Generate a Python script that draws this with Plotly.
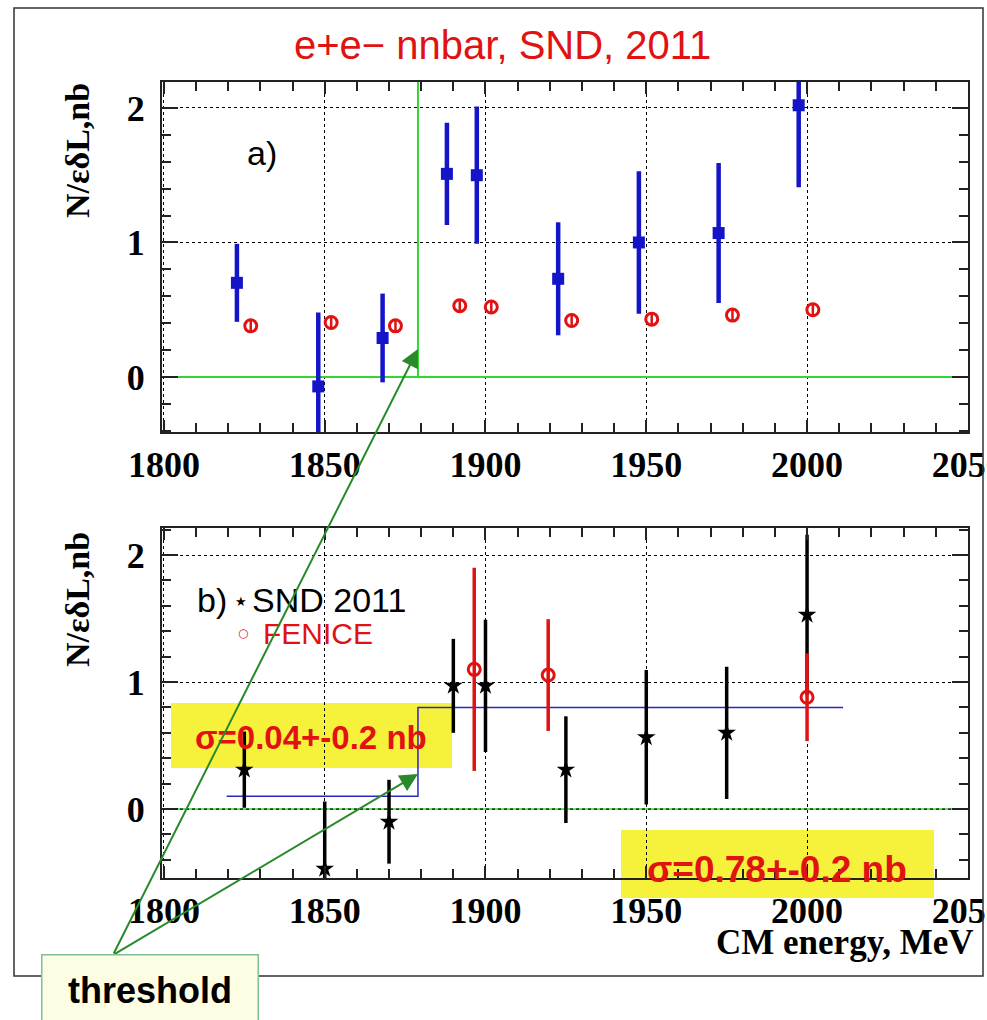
import plotly.graph_objects as go

W, H = 987, 1020

# ---- panel a) : N/(eps*dL) per energy point ----
e_snd_a = [1822.7, 1848.0, 1868.0, 1888.0, 1897.3, 1922.6, 1947.7, 1972.5, 1997.4]
n_snd_a = [0.70, -0.07, 0.29, 1.51, 1.50, 0.73, 1.00, 1.07, 2.02]
err_snd_a = [0.29, 0.55, 0.33, 0.38, 0.51, 0.42, 0.53, 0.52, 0.61]

e_open_a = [1827.0, 1852.0, 1872.0, 1892.0, 1901.8, 1926.8, 1951.7, 1976.8, 2001.8]
n_open_a = [0.38, 0.405, 0.38, 0.53, 0.52, 0.42, 0.43, 0.46, 0.50]
err_open_a = [0.05, 0.05, 0.05, 0.05, 0.05, 0.05, 0.05, 0.05, 0.05]

# ---- panel b) : SND 2011 vs FENICE ----
e_snd_b = [1825, 1850, 1870, 1890, 1900, 1925, 1950, 1975, 2000]
n_snd_b = [0.31, -0.47, -0.10, 0.97, 0.97, 0.31, 0.565, 0.60, 1.53]
err_snd_b = [0.30, 0.53, 0.33, 0.37, 0.52, 0.42, 0.53, 0.52, 0.63]

e_fenice = [1896.5, 1919.5, 2000.0]
n_fenice = [1.10, 1.055, 0.88]
err_fenice = [0.80, 0.44, 0.345]

# step fit below / above threshold
fit_e = [1819.5, 1879.0, 1879.0, 2011.2]
fit_n = [0.10, 0.10, 0.80, 0.80]

threshold = 1879.0
x_range = [1799.4, 2050.05]
x_ticks = [1800, 1850, 1900, 1950, 2000, 2050]
y_ticks = [0, 1, 2]

BLUE = "#1414c8"
RED = "#e01212"
GREEN = "#33d633"
ARROW_GREEN = "#2a8a2a"
YELLOW = "#f6f23c"
SERIF = "Liberation Serif"
SANS = "Liberation Sans"


def px(xp):
    return xp / W


def py(yp):
    return 1 - yp / H


fig = go.Figure()

# ---------- panel a ----------
fig.add_trace(go.Scatter(x=x_range, y=[0, 0], mode="lines",
                         line=dict(color=GREEN, width=2), xaxis="x", yaxis="y",
                         hoverinfo="skip"))
fig.add_trace(go.Scatter(x=[threshold, threshold], y=[0, 2.4], mode="lines",
                         line=dict(color=GREEN, width=2), xaxis="x", yaxis="y",
                         hoverinfo="skip"))
fig.add_trace(go.Scatter(
    x=e_snd_a, y=n_snd_a, mode="markers", xaxis="x", yaxis="y",
    marker=dict(symbol="square", size=12, color=BLUE),
    error_y=dict(type="data", array=err_snd_a, thickness=4.5, width=0, color=BLUE)))
fig.add_trace(go.Scatter(
    x=e_open_a, y=n_open_a, mode="markers", xaxis="x", yaxis="y",
    marker=dict(symbol="circle-open", size=12, color=RED, line=dict(width=3, color=RED)),
    error_y=dict(type="data", array=err_open_a, thickness=2.5, width=0, color=RED)))

# ---------- panel b ----------
fig.add_trace(go.Scatter(x=x_range, y=[0, 0], mode="lines",
                         line=dict(color=GREEN, width=1.5), xaxis="x2", yaxis="y2",
                         hoverinfo="skip"))
fig.add_trace(go.Scatter(x=x_range, y=[0, 0], mode="lines",
                         line=dict(color="black", width=1, dash="dot"), xaxis="x2", yaxis="y2",
                         hoverinfo="skip"))
fig.add_trace(go.Scatter(x=fit_e, y=fit_n, mode="lines",
                         line=dict(color="#2828c0", width=1.5), xaxis="x2", yaxis="y2"))
fig.add_trace(go.Scatter(
    x=e_snd_b, y=n_snd_b, mode="markers", xaxis="x2", yaxis="y2",
    marker=dict(symbol="star", size=14, color="black"),
    error_y=dict(type="data", array=err_snd_b, thickness=3.5, width=0, color="black")))
fig.add_trace(go.Scatter(
    x=e_fenice, y=n_fenice, mode="markers", xaxis="x2", yaxis="y2",
    marker=dict(symbol="circle-open", size=12, color=RED, line=dict(width=3, color=RED)),
    error_y=dict(type="data", array=err_fenice, thickness=3.5, width=0, color=RED)))

common_x = dict(
    range=x_range, tickvals=x_ticks, ticktext=[f"<b>{v}</b>" for v in x_ticks],
    ticks="inside", ticklen=12, tickwidth=1.5, tickcolor="#222",
    minor=dict(dtick=10, tick0=1800, ticks="inside", ticklen=9, tickwidth=1.5, tickcolor="#222",
               showgrid=False),
    showline=True, linecolor="#222", linewidth=2, mirror="ticks",
    showgrid=True, gridcolor="black", griddash="dot", gridwidth=1,
    tickfont=dict(family=SERIF, size=36, color="black"),
    ticklabelstandoff=0, ticklabeloverflow="allow", automargin=False, zeroline=False,
)
common_y = dict(
    tickvals=y_ticks, ticktext=[f"<b>{v}</b>" for v in y_ticks],
    ticks="inside", ticklen=16, tickwidth=1.5, tickcolor="#222",
    minor=dict(dtick=0.2, tick0=0, ticks="inside", ticklen=9, tickwidth=1.5, tickcolor="#222",
               showgrid=False),
    showline=True, linecolor="#222", linewidth=2, mirror="ticks",
    showgrid=True, gridcolor="black", griddash="dot", gridwidth=1,
    tickfont=dict(family=SERIF, size=36, color="black"),
    ticklabelstandoff=8, automargin=False, zeroline=False,
)

shapes = [
    # outer frame
    dict(type="rect", xref="paper", yref="paper", x0=px(14), x1=px(983), y0=py(976), y1=py(8),
         line=dict(color="#333", width=1.5), layer="above"),
    # highlight boxes
    dict(type="rect", xref="paper", yref="paper", x0=px(171), x1=px(452), y0=py(768), y1=py(703),
         fillcolor=YELLOW, line=dict(width=0), layer="below"),
    dict(type="rect", xref="paper", yref="paper", x0=px(621), x1=px(934), y0=py(898), y1=py(830),
         fillcolor=YELLOW, line=dict(width=0), layer="below"),
]

annotations = [
    dict(text="e+e\u2212 nnbar, SND, 2011", x=px(502), y=py(45), xref="paper", yref="paper",
         showarrow=False, font=dict(family=SANS, size=40, color=RED), xanchor="center", yanchor="middle"),
    dict(text="<b>N/\u03b5\u03b4L,nb</b>", x=px(77), y=py(151), xref="paper", yref="paper", textangle=-90,
         showarrow=False, font=dict(family=SERIF, size=34, color="black"), xanchor="center", yanchor="middle"),
    dict(text="<b>N/\u03b5\u03b4L,nb</b>", x=px(77), y=py(600), xref="paper", yref="paper", textangle=-90,
         showarrow=False, font=dict(family=SERIF, size=34, color="black"), xanchor="center", yanchor="middle"),
    dict(text="a)", x=px(262), y=py(153), xref="paper", yref="paper",
         showarrow=False, font=dict(family=SANS, size=34, color="black"), xanchor="center", yanchor="middle"),
    dict(text="b)", x=px(212), y=py(600), xref="paper", yref="paper",
         showarrow=False, font=dict(family=SANS, size=34, color="black"), xanchor="center", yanchor="middle"),
    dict(text="\u2605", x=px(241), y=py(601), xref="paper", yref="paper",
         showarrow=False, font=dict(family="DejaVu Sans", size=13, color="black"), xanchor="center", yanchor="middle"),
    dict(text="SND 2011", x=px(250), y=py(600), xref="paper", yref="paper",
         showarrow=False, font=dict(family=SANS, size=34, color="black"), xanchor="left", yanchor="middle"),
    dict(text="\u25cb", x=px(243), y=py(633), xref="paper", yref="paper",
         showarrow=False, font=dict(family="DejaVu Sans", size=12, color=RED), xanchor="center", yanchor="middle"),
    dict(text="FENICE", x=px(261), y=py(633), xref="paper", yref="paper",
         showarrow=False, font=dict(family=SANS, size=30, color=RED), xanchor="left", yanchor="middle"),
    dict(text="<b>\u03c3=0.04+-0.2 nb</b>", x=px(311), y=py(737), xref="paper", yref="paper",
         showarrow=False, font=dict(family=SANS, size=33, color=RED), xanchor="center", yanchor="middle"),
    dict(text="<b>\u03c3=0.78+-0.2 nb</b>", x=px(777), y=py(869), xref="paper", yref="paper",
         showarrow=False, font=dict(family=SANS, size=37, color=RED), xanchor="center", yanchor="middle"),
    dict(text="<b>CM energy, MeV</b>", x=px(976), y=py(942), xref="paper", yref="paper",
         showarrow=False, font=dict(family=SERIF, size=35, color="black"), xanchor="right", yanchor="middle"),
    # threshold pointers
    dict(text="", x=threshold, y=0.208, xref="x", yref="y", showarrow=True,
         ax=-305, ay=606, arrowcolor=ARROW_GREEN, arrowwidth=2, arrowhead=2, arrowsize=1.8),
    dict(text="", x=threshold, y=0.276, xref="x2", yref="y2", showarrow=True,
         ax=-305, ay=181, arrowcolor=ARROW_GREEN, arrowwidth=2, arrowhead=2, arrowsize=1.8),
    dict(text="<b>threshold</b>", x=px(150), y=py(990), xref="paper", yref="paper",
         showarrow=False, font=dict(family=SANS, size=36, color="black"),
         bgcolor="#fdfde4", bordercolor="#7fbf9a", borderwidth=1.5, borderpad=0,
         width=215, height=70, xanchor="center", yanchor="middle"),
]

fig.update_layout(
    width=W, height=H, margin=dict(l=0, r=0, t=0, b=0, autoexpand=False),
    paper_bgcolor="white", plot_bgcolor="white", showlegend=False,
    xaxis=dict(domain=[px(162), px(968)], anchor="y", **common_x),
    yaxis=dict(domain=[py(432), py(82)], anchor="x", range=[-0.409, 2.193], **common_y),
    xaxis2=dict(domain=[px(162), px(968)], anchor="y2", **common_x),
    yaxis2=dict(domain=[py(878), py(528)], anchor="x2", range=[-0.543, 2.213], **common_y),
    shapes=shapes, annotations=annotations,
)

fig.write_html("out.html")
